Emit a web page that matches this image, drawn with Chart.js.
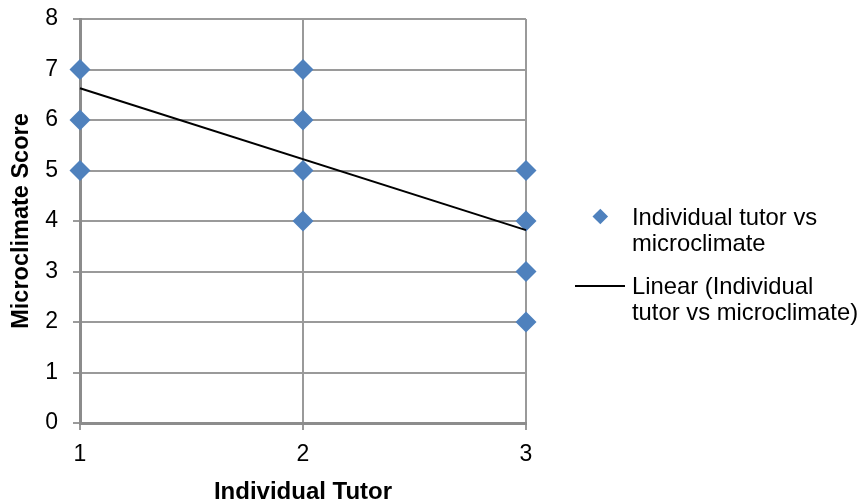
<!DOCTYPE html>
<html>
<head>
<meta charset="utf-8">
<script src="https://cdn.jsdelivr.net/npm/chart.js@4.4.0/dist/chart.umd.min.js"></script>
<style>
  html, body { margin: 0; padding: 0; background: #fff; }
  #wrap { position: relative; width: 863px; height: 503px; font-family: "Liberation Sans", Arial, sans-serif; }
  canvas { position: absolute; left: 0; top: 0; }
  .leg { position: absolute; font-size: 23.8px; line-height: 26px; color: #000; white-space: nowrap; }
  .dia { position: absolute; width: 10.6px; height: 10.6px; background: #4F81BD; transform: rotate(45deg); }
  .ln { position: absolute; height: 2px; background: #000; }
</style>
</head>
<body>
<div id="wrap">
  <canvas id="c" width="863" height="503"></canvas>
  <div class="dia" style="left:594.7px; top:211.4px;"></div>
  <div class="leg" style="left:632px; top:204px;">Individual tutor vs<br>microclimate</div>
  <div class="ln" style="left:575px; top:285px; width:50px;"></div>
  <div class="leg" style="left:632px; top:273px;">Linear (Individual<br>tutor vs microclimate)</div>
</div>
<script>
// Data
const tutorX = [1, 1, 1, 2, 2, 2, 2, 3, 3, 3, 3];
const microScore = [7, 6, 5, 7, 6, 5, 4, 5, 4, 3, 2];
const trendX = [1, 3];
const trendY = [6.63, 3.82];
const seriesName = "Individual tutor vs microclimate";
const trendName = "Linear (Individual tutor vs microclimate)";
const xTitle = "Individual Tutor";
const yTitle = "Microclimate Score";

const scatterPts = tutorX.map((x, i) => ({ x: x, y: microScore[i] }));
const trendPts = trendX.map((x, i) => ({ x: x, y: trendY[i] }));

const gridColor = '#9a9a9a';
const tickFont = { family: '"Liberation Sans", Arial, sans-serif', size: 23 };
const xTitleFont = { family: '"Liberation Sans", Arial, sans-serif', size: 24, weight: 'bold' };
const yTitleFont = { family: '"Liberation Sans", Arial, sans-serif', size: 23.5, weight: 'bold' };

new Chart(document.getElementById('c'), {
  type: 'scatter',
  data: {
    datasets: [
      {
        type: 'line',
        label: trendName,
        data: trendPts,
        borderColor: '#000',
        borderWidth: 2,
        pointRadius: 0,
        fill: false,
        order: 0,
        clip: false
      },
      {
        label: seriesName,
        data: scatterPts,
        pointStyle: 'rectRot',
        pointRadius: 10.5,
        pointHoverRadius: 10.5,
        backgroundColor: '#4F81BD',
        borderColor: '#4F81BD',
        borderWidth: 0,
        order: 1,
        clip: false
      }
    ]
  },
  options: {
    responsive: false,
    animation: false,
    events: [],
    layout: { padding: { left: 0, right: 337, top: 19, bottom: 0 } },
    plugins: { legend: { display: false }, tooltip: { enabled: false } },
    scales: {
      x: {
        type: 'linear',
        min: 1, max: 3,
        ticks: { stepSize: 1, color: '#000', font: tickFont, padding: 11 },
        grid: { color: gridColor, lineWidth: 2, tickLength: 7, drawTicks: true },
        border: { color: '#8c8c8c', width: 3 },
        title: { display: true, text: xTitle, color: '#000', font: xTitleFont, padding: { top: 0, bottom: -4 } },
        afterFit: (s) => { s.height = 80; s.paddingLeft = 0; s.paddingRight = 0; }
      },
      y: {
        min: 0, max: 8,
        ticks: { stepSize: 1, color: '#000', font: tickFont, padding: 15 },
        grid: { color: gridColor, lineWidth: 2, tickLength: 7 },
        border: { color: '#8c8c8c', width: 3 },
        title: { display: true, text: yTitle, color: '#000', font: yTitleFont, padding: { top: 7, bottom: 0 } },
        afterFit: (s) => { s.width = 80; s.paddingTop = 0; s.paddingBottom = 0; }
      }
    }
  }
});
</script>
</body>
</html>
